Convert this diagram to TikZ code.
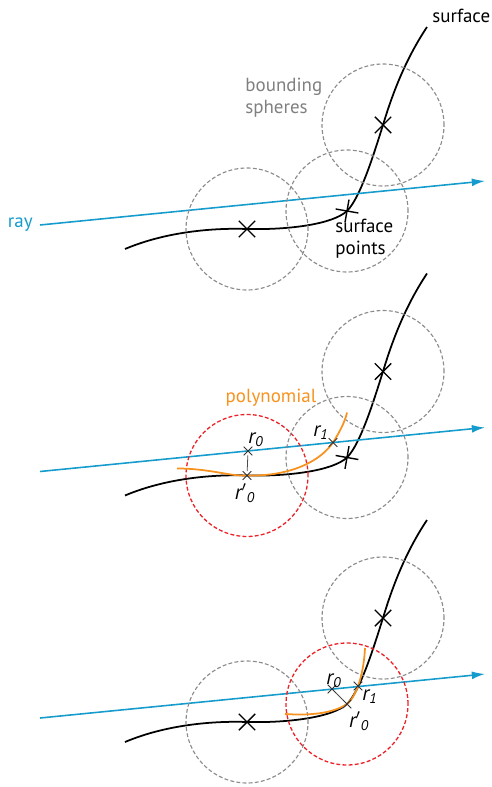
\documentclass[tikz,border=0pt]{standalone}
\usepackage{fontspec}
\setmainfont{PT Sans}
\usetikzlibrary{arrows.meta,positioning,shapes.misc}
\definecolor{raycyan}{RGB}{22,156,204}
\definecolor{polyorange}{RGB}{247,146,30}
\definecolor{spherered}{RGB}{236,34,40}

\begin{document}
\begin{tikzpicture}[
    x=0.02cm, y=-0.02cm,
    curve/.style={line width=1pt, draw=black},
    raypath/.style={line width=0.9pt, draw=raycyan, -{Latex[length=7.5pt,width=4.5pt]}},
    sphere/.style={circle, draw=gray!90, dash pattern=on 2.2pt off 1.3pt, line width=0.65pt, minimum size=2.44cm, inner sep=0},
    hitsphere/.style={sphere, draw=spherered, line width=0.75pt},
    bigcross/.style={cross out, draw=black, line width=0.8pt, minimum size=8.5pt, inner sep=0},
    smallcross/.style={cross out, draw=black!80, line width=0.45pt, minimum size=4.5pt, inner sep=0},
    polycurve/.style={line width=1pt, draw=polyorange},
    label/.style={font=\fontsize{10.8}{12.6}\selectfont, inner sep=0, align=left},
    rlabel/.style={font=\fontsize{12}{14}\selectfont\itshape, inner sep=0}
]
    \useasboundingbox (0,0) rectangle (492,787);

    % --- surface and ray, same in all three panels ---
    \foreach \p in {0,1,2} {
        \begin{scope}[shift={(0,246.5*\p)}]
            \coordinate (raystart\p) at (40,225);
            \coordinate (rayend\p) at (485,181);
            \coordinate (pt1-\p) at (247,229);
            \coordinate (pt2-\p) at (347,211);
            \coordinate (pt3-\p) at (383,125);
            \draw[curve] (125,249) .. controls (170,230) and (220,228) .. (pt1-\p)
                .. controls (290,230) and (333,224) .. (pt2-\p)
                .. controls (361,197) and (375,150) .. (pt3-\p)
                .. controls (392,95) and (405,60) .. (427,27);
            \draw[raypath] (raystart\p) -- (rayend\p);
        \end{scope}
    }

    % --- PANEL 1: bounding spheres ---
    \node[sphere] (s1a) at (pt1-0) {};
    \node[sphere] (s2a) at (pt2-0) {};
    \node[sphere] (s3a) at (pt3-0) {};
    \node[bigcross] (x1a) at (pt1-0) {};
    \node[bigcross, rotate=35] (x2a) at (pt2-0) {};
    \node[bigcross] (x3a) at (pt3-0) {};
    \node[label, text=raycyan, left=4pt of raystart0] (raylbl) {ray};
    \node[label, anchor=base west] (surflbl) at (432,23) {surface};
    \node[label, text=gray, anchor=north west] (bslbl) at (245,78) {bounding\\spheres};
    \node[label, anchor=north west] (splbl) at (335,219) {surface\\points};

    % --- PANEL 2: polynomial in first sphere ---
    \begin{scope}[shift={(0,246.5)}]
        \node[hitsphere] (s1b) at (pt1-1) {};
        \node[sphere] (s2b) at (pt2-1) {};
        \node[sphere] (s3b) at (pt3-1) {};
        \node[bigcross, rotate=35] (x2b) at (pt2-1) {};
        \node[bigcross] (x3b) at (pt3-1) {};
        \draw[polycurve] (177,222) .. controls (210,222) and (230,230) .. (pt1-1)
            .. controls (290,230) and (320,215) .. (333,196)
            .. controls (340,185) and (345,175) .. (347,166);
        \node[smallcross] (r0b) at (248,204.5) {};
        \node[smallcross] (rp0b) at (pt1-1) {};
        \node[smallcross] (r1b) at (333,196) {};
        \draw[black!70, line width=0.45pt] (r0b) -- (rp0b);
        \node[rlabel] (r0lb) at (256,193) {r\textsubscript{0}};
        \node[rlabel] (rp0lb) at (245,246.5) {r$'$\textsubscript{0}};
        \node[rlabel] (r1lb) at (321,186.5) {r\textsubscript{1}};
        \node[label, text=polyorange, anchor=base] (polylbl) at (271,155.5) {polynomial};
    \end{scope}

    % --- PANEL 3: polynomial in second sphere ---
    \begin{scope}[shift={(0,493)}]
        \node[sphere] (s1c) at (pt1-2) {};
        \node[hitsphere] (s2c) at (pt2-2) {};
        \node[sphere] (s3c) at (pt3-2) {};
        \node[bigcross] (x1c) at (pt1-2) {};
        \node[bigcross] (x3c) at (pt3-2) {};
        \draw[polycurve] (285,221) .. controls (315,223) and (335,219) .. (pt2-2)
            .. controls (358,202) and (364,177) .. (365,155);
        \node[smallcross] (r0c) at (332,196) {};
        \node[smallcross] (rp0c) at (pt2-2) {};
        \node[smallcross] (r1c) at (358,193) {};
        \draw[black!70, line width=0.45pt] (r0c) -- (rp0c);
        \node[rlabel] (r0lc) at (334,188) {r\textsubscript{0}};
        \node[rlabel] (r1lc) at (370,204) {r\textsubscript{1}};
        \node[rlabel] (rp0lc) at (359,228) {r$'$\textsubscript{0}};
    \end{scope}

\end{tikzpicture}
\end{document}
